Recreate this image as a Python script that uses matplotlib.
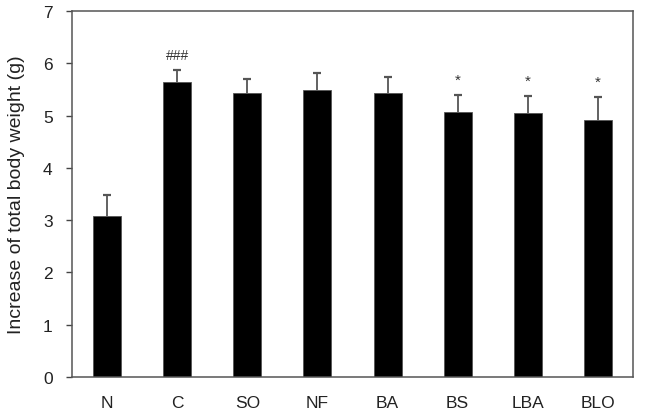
import numpy as np
import matplotlib
matplotlib.use("Agg")
import matplotlib.pyplot as plt

plt.rcParams["font.family"] = ["Liberation Sans", "DejaVu Sans"]

groups = ["N", "C", "SO", "NF", "BA", "BS", "LBA", "BLO"]
means = [3.08, 5.64, 5.44, 5.48, 5.44, 5.07, 5.04, 4.92]
errs = [0.41, 0.23, 0.26, 0.34, 0.30, 0.32, 0.33, 0.43]
marks = ["", "###", "", "", "", "*", "*", "*"]

fig = plt.figure(figsize=(6.48, 4.14), dpi=100)
ax = fig.add_axes([0.1111, 0.087, 0.8657, 0.884])

x = np.arange(len(groups))
ax.bar(x, means, width=0.4, color="black", edgecolor="#555555", linewidth=0.6, zorder=2)
eb = ax.errorbar(x, means, yerr=[np.zeros(len(errs)), errs], fmt="none",
                 ecolor="#555555", elinewidth=1.3, capsize=3, capthick=1.6, zorder=1)
# only the upper caps
eb[1][0].set_visible(False)

for xi, m, e, s in zip(x, means, errs, marks):
    if s:
        off = 0.17 if s == "*" else 0.16
        ax.text(xi, m + e + off, s, ha="center", va="bottom",
                fontsize=11 if s == "*" else 10, color="#333333")

ax.set_xlim(-0.5, 7.5)
ax.set_ylim(0, 7)
ax.set_yticks(range(8))
ax.set_xticks(x)
ax.set_xticklabels(groups)
ax.tick_params(axis="x", length=0, pad=13, labelsize=12.5, colors="#222222")
ax.tick_params(axis="y", direction="out", length=4, width=1, pad=10, labelsize=12.5,
               color="#444444", labelcolor="#222222")
for sp in ax.spines.values():
    sp.set_color("#555555")
    sp.set_linewidth(1.1)
ax.set_ylabel("Increase of total body weight (g)", fontsize=14, color="#222222")
ax.yaxis.set_label_coords(-0.084, 0.5)

fig.savefig("out.png", dpi=100)
